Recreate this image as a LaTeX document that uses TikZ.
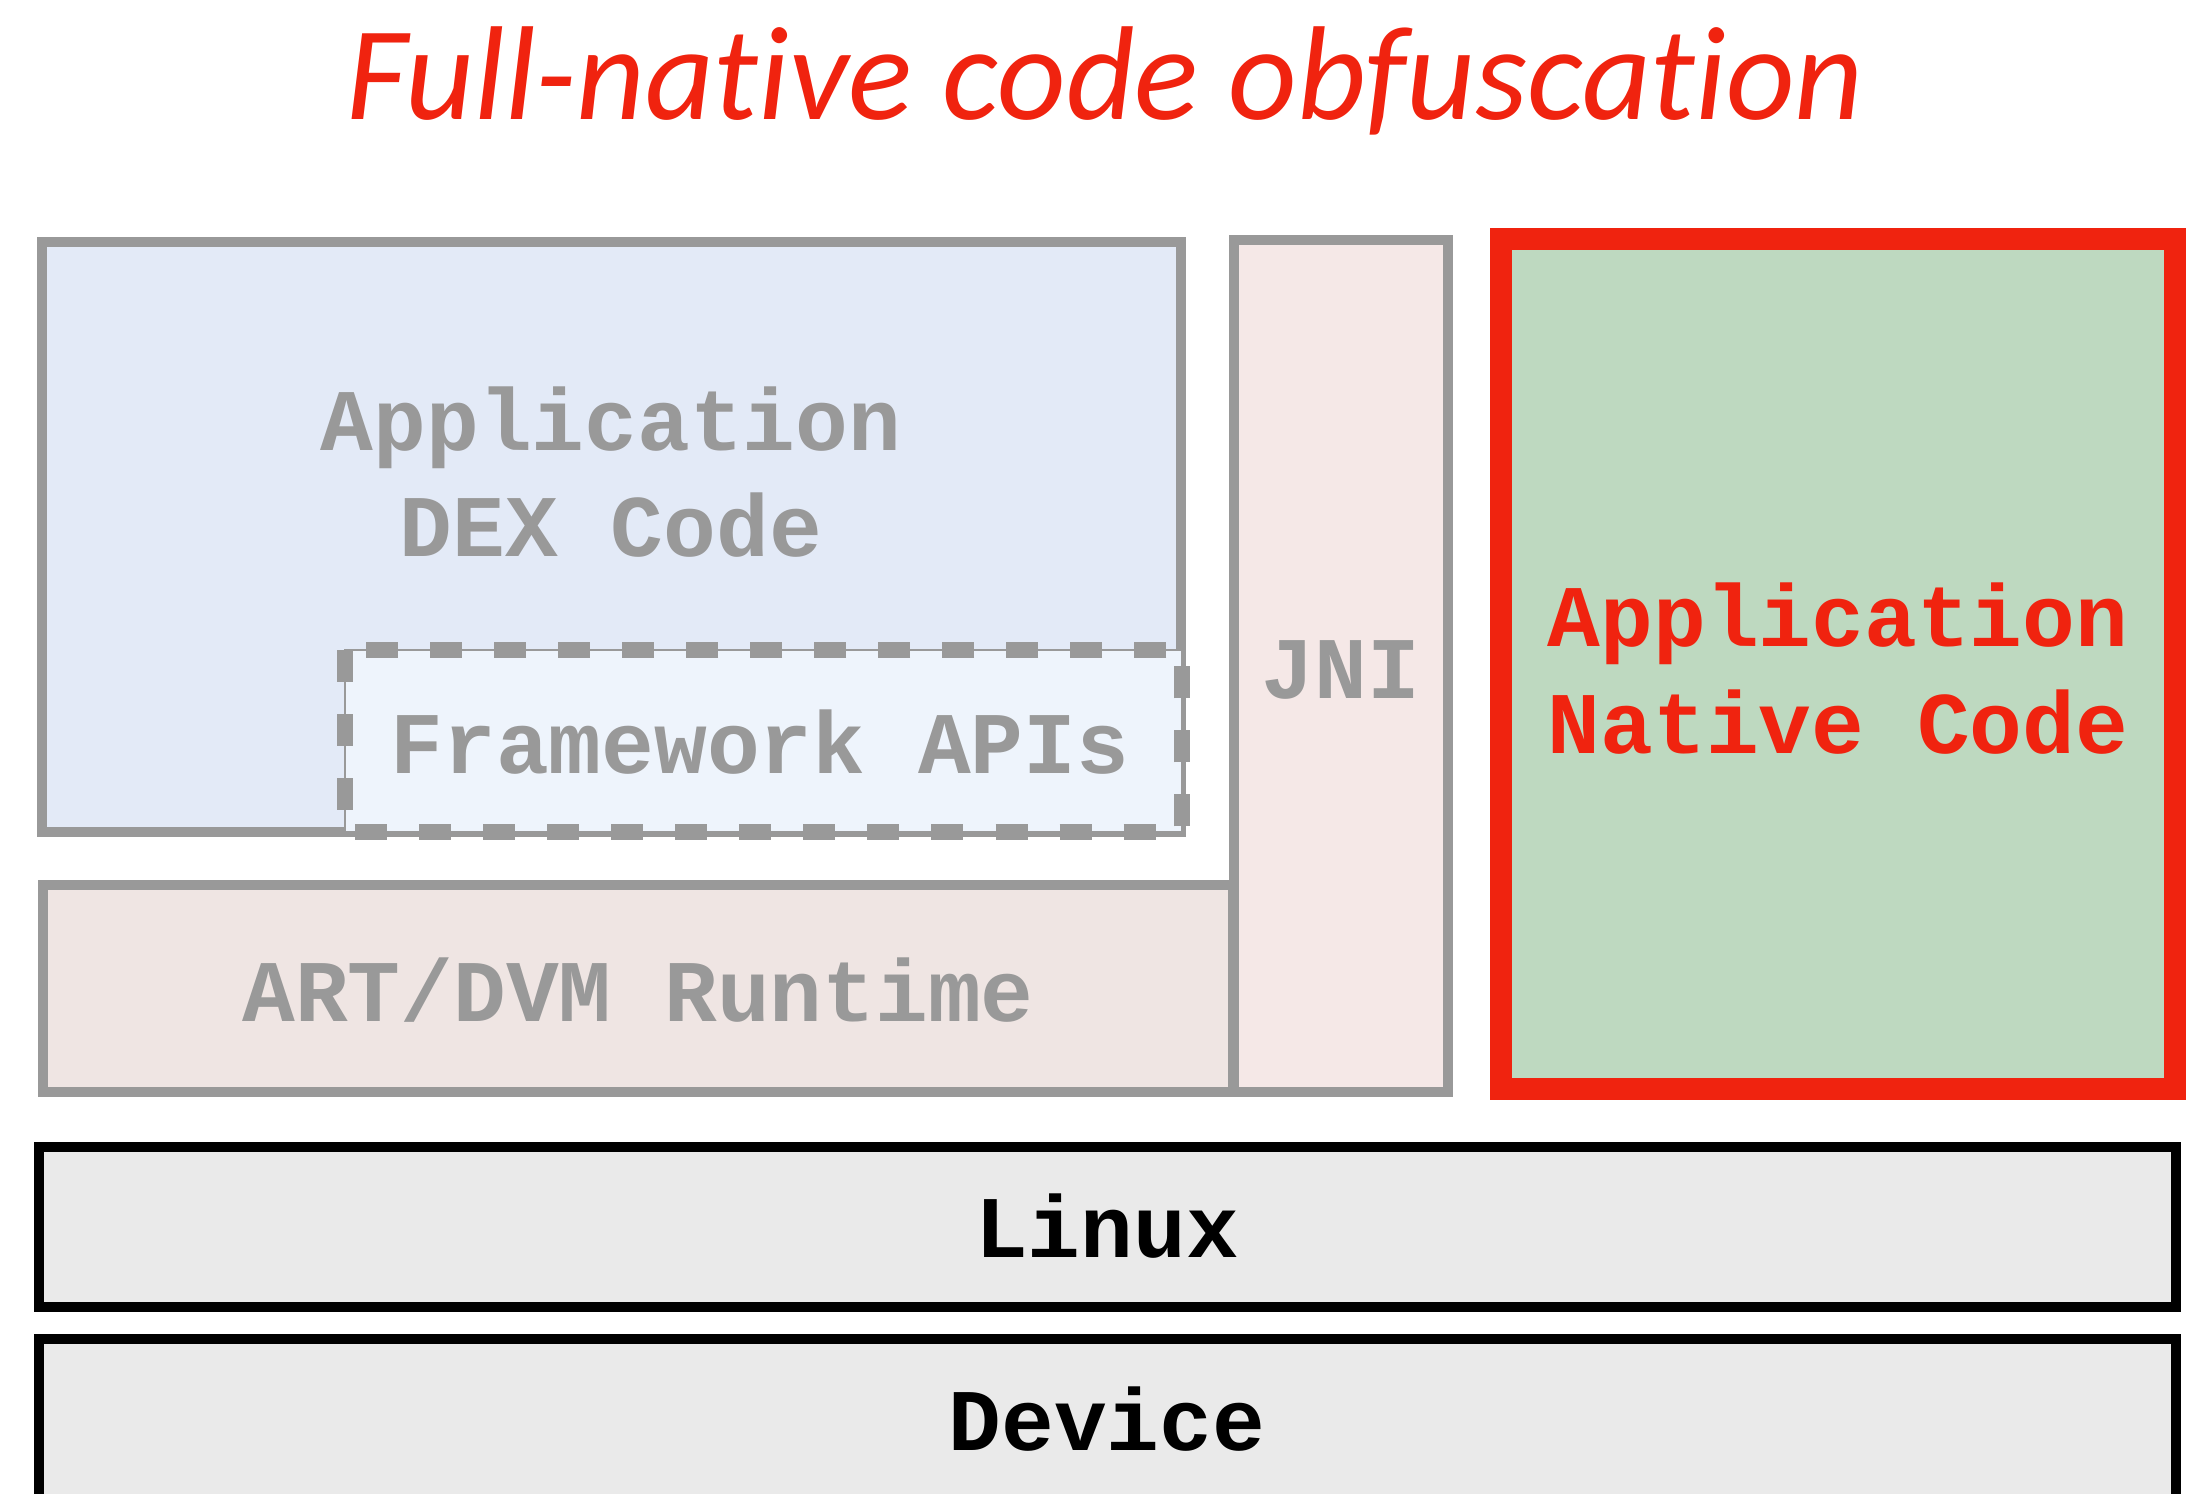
\documentclass[tikz,border=0pt]{standalone}
\usepackage{fontspec}
\setmonofont{Liberation Mono}
\newfontfamily\titlefont[Ligatures=NoCommon]{Carlito}

\definecolor{boxgray}{HTML}{999999}
\definecolor{obfred}{HTML}{F0230F}
\definecolor{dexblue}{HTML}{E3EAF7}
\definecolor{apiblue}{HTML}{EEF4FC}
\definecolor{artpink}{HTML}{EFE5E3}
\definecolor{jnipink}{HTML}{F5E8E7}
\definecolor{nativegreen}{HTML}{BED9C0}
\definecolor{basegray}{HTML}{EAEAEA}

\begin{document}
\begin{tikzpicture}[x=0.01cm, y=-0.01cm,
    stackbox/.style={draw=boxgray, line width=3pt},
    basebox/.style={draw=black, line width=3pt, fill=basegray},
    layertext/.style={font=\fontsize{25}{30}\selectfont\ttfamily\bfseries,
      text=boxgray, anchor=base, inner sep=0pt}]
  \useasboundingbox (0,0) rectangle (2203,1493);
  \clip (0,0) rectangle (2203,1493);

  % title
  \node[anchor=base, inner sep=0pt, text=obfred,
    font=\fontsize{38}{44}\selectfont\titlefont\itshape]
    (title) at (1105,119) {Full-native code obfuscation};

  % managed side: dex code, framework, runtime, jni
  \draw[stackbox, fill=dexblue] (42,242) rectangle (1181,832);
  \draw[boxgray, line width=0.6pt, fill=apiblue] (345,650) rectangle (1182,832);
  \draw[boxgray, line width=4.5pt, dash pattern=on 0.32cm off 0.32cm]
    (345,650) rectangle (1182,832);
  \draw[stackbox, fill=artpink] (43,885) rectangle (1233,1092);
  \draw[stackbox, fill=jnipink] (1234,240) rectangle (1448,1092);

  % native side
  \draw[draw=obfred, line width=6pt, fill=nativegreen] (1501,239) rectangle (2175,1089);

  % kernel and hardware
  \draw[basebox] (39,1147) rectangle (2176,1307);
  \draw[basebox] (39,1339) rectangle (2176,1500);

  % labels
  \node[layertext] (dexA) at (611,450) {Application};
  \node[layertext] (dexB) at (611,556) {DEX Code};
  \node[layertext] (api) at (760,773) {Framework APIs};
  \node[layertext] (art) at (638,1021) {ART/DVM Runtime};
  \node[layertext] (jni) at (1341,698) {JNI};
  \node[layertext, text=obfred] (natA) at (1838,646) {Application};
  \node[layertext, text=obfred] (natB) at (1838,753) {Native Code};
  \node[layertext, text=black] (linux) at (1107,1257) {Linux};
  \node[layertext, text=black] (device) at (1107,1450) {Device};
\end{tikzpicture}
\end{document}
